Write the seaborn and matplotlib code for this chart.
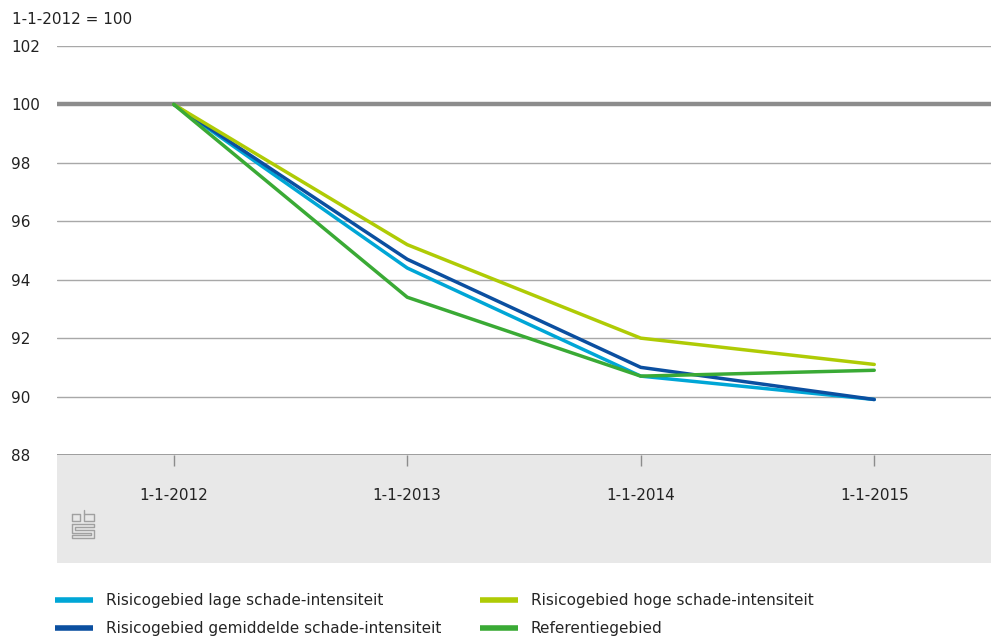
import numpy as np
import pandas as pd
import matplotlib
matplotlib.use("Agg")
import matplotlib.pyplot as plt
import seaborn as sns
from matplotlib.patches import Rectangle
from matplotlib.lines import Line2D

dates = ["1-1-2012", "1-1-2013", "1-1-2014", "1-1-2015"]
lage = [100, 94.4, 90.7, 89.9]
gemiddeld = [100, 94.7, 91.0, 89.9]
hoog = [100, 95.2, 92.0, 91.1]
referentie = [100, 93.4, 90.7, 90.9]
series_names = [
    "Risicogebied lage schade-intensiteit",
    "Risicogebied gemiddelde schade-intensiteit",
    "Risicogebied hoge schade-intensiteit",
    "Referentiegebied",
]
colors = ["#00a6d6", "#0b4fa0", "#afcb05", "#3aaa35"]
yticks = [88, 90, 92, 94, 96, 98, 100, 102]

rows = []
for name, vals in zip(series_names, [lage, gemiddeld, hoog, referentie]):
    for i, (d, v) in enumerate(zip(dates, vals)):
        rows.append({"pos": i, "datum": d, "index": v, "reeks": name})
df = pd.DataFrame(rows)

sns.set_theme(style="white")
plt.rcParams["font.family"] = ["DejaVu Sans"]

fig = plt.figure(figsize=(9.91, 6.36), dpi=100)
W, H = 991, 636

# gray band below axis
band = Rectangle((57 / W, (H - 563) / H), (991 - 57) / W, (563 - 455) / H,
                 transform=fig.transFigure, facecolor="#e8e8e8",
                 edgecolor="none", zorder=-5)
fig.patches.append(band)

ax = fig.add_axes([57 / W, (H - 455) / H, (991 - 57) / W, (455 - 46) / H])
ax.set_zorder(2)

for y in yticks:
    if y == 100:
        ax.axhline(y, color="#8c8c8c", lw=3.2, zorder=1)
    elif y == 88:
        ax.axhline(y, color="#8c8c8c", lw=1.2, zorder=1)
    else:
        ax.axhline(y, color="#a8a8a8", lw=1.0, zorder=1)

sns.lineplot(data=df, x="pos", y="index", hue="reeks", hue_order=series_names,
             palette=colors, linewidth=2.5, ax=ax, legend=False, zorder=3)

ax.set_xlim(-0.5, 3.5)
ax.set_ylim(88, 102)
ax.set_xticks(range(len(dates)))
ax.set_xticklabels(dates, fontsize=11, color="#222222")
ax.set_yticks(yticks)
ax.set_yticklabels([str(y) for y in yticks], fontsize=11, color="#222222", ha="left")
ax.tick_params(axis="y", length=0, pad=33)
ax.tick_params(axis="x", bottom=True, length=8, width=1, color="#8c8c8c", pad=16,
               direction="out", labelbottom=True)
ax.xaxis.set_ticks_position("bottom")
for s in ax.spines.values():
    s.set_visible(False)
ax.set_xlabel("")
ax.set_ylabel("")
ax.set_facecolor("none")

fig.text(12 / W, (H - 20) / H, "1-1-2012 = 100", fontsize=11, color="#222222",
         ha="left", va="center")

# simple cbs logo approximation
def px(x, y):
    return x / W, (H - y) / H
logo_col = "#a0a0a0"
segs = [
    [(72, 514), (80, 514), (80, 521), (72, 521), (72, 514)],
    [(84, 510), (84, 521), (94, 521), (94, 514), (84, 514)],
    [(72, 524), (94, 524), (94, 527), (75, 527), (75, 530), (94, 530), (94, 538), (72, 538), (72, 535), (91, 535), (91, 533), (72, 533), (72, 524)],
]
for seg in segs:
    xs, ys = zip(*[px(a, b) for a, b in seg])
    fig.add_artist(Line2D(xs, ys, transform=fig.transFigure, color=logo_col, lw=1.0))

handles = [Line2D([0], [0], color=c, lw=4, solid_capstyle="butt") for c in colors]
fig.legend(handles, series_names,
           loc="upper left", bbox_to_anchor=(55 / W, (H - 593) / H), ncol=2,
           frameon=False, fontsize=11, handlelength=2.5, handletextpad=0.85,
           columnspacing=2.5, labelspacing=0.88, borderaxespad=0, borderpad=0)

fig.savefig("out.png", dpi=100)
